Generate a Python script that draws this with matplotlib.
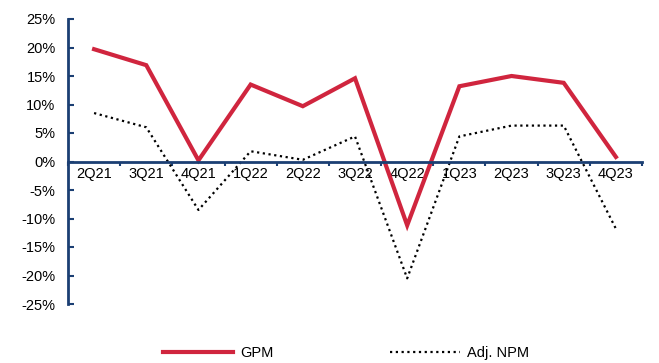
import matplotlib
matplotlib.use("Agg")
import matplotlib.pyplot as plt
from matplotlib.ticker import FixedLocator, FuncFormatter

quarters = ["2Q21", "3Q21", "4Q21", "1Q22", "2Q22", "3Q22",
            "4Q22", "1Q23", "2Q23", "3Q23", "4Q23"]
gpm = [19.7, 16.9, 0.2, 13.5, 9.7, 14.6, -11.2, 13.2, 15.0, 13.8, 0.8]
adj_npm = [8.5, 6.0, -8.5, 1.8, 0.3, 4.4, -20.5, 4.4, 6.3, 6.3, -11.8]

NAVY = "#1B3F73"
RED = "#D0253E"

plt.rcParams["font.family"] = ["Liberation Sans", "DejaVu Sans"]
plt.rcParams["font.size"] = 9

fig = plt.figure(figsize=(6.59, 3.63), dpi=100)
ax = fig.add_axes([68 / 659, 1 - 304 / 363, (642 - 68) / 659, (304 - 19) / 363])

x = list(range(len(quarters)))
ax.plot(x, gpm, color=RED, lw=3.0, label="GPM", solid_joinstyle="miter")
ax.plot(x, adj_npm, color="black", lw=1.6, ls=(0, (1, 1.6)), label="Adj. NPM")

ax.set_xlim(-0.5, len(quarters) - 0.5)
ax.set_ylim(-25, 25)
ax.set_yticks(range(-25, 26, 5))
ax.yaxis.set_major_formatter(FuncFormatter(lambda v, p: f"{v:.0f}%"))
ax.tick_params(axis="y", direction="in", length=4, width=1.5, color=NAVY,
               pad=9, labelsize=10.5)

ax.set_xticks(x)
ax.set_xticklabels(quarters)
ax.xaxis.set_minor_locator(FixedLocator([i - 0.5 for i in range(len(quarters) + 1)]))
ax.tick_params(axis="x", which="major", length=0, pad=4, labelsize=10.5)
ax.tick_params(axis="x", which="minor", direction="out", length=3,
               width=1.5, color=NAVY)

for s in ["top", "right"]:
    ax.spines[s].set_visible(False)
ax.spines["bottom"].set_position(("data", 0))
ax.spines["bottom"].set_color(NAVY)
ax.spines["bottom"].set_linewidth(2)
ax.spines["left"].set_color(NAVY)
ax.spines["left"].set_linewidth(2)

fig.legend(loc="center", bbox_to_anchor=(346 / 659, 1 - 353 / 363), ncol=2,
           frameon=False, handlelength=4.8, handletextpad=0.45,
           columnspacing=8.0, fontsize=10.5)

fig.savefig("out.png", dpi=100)
